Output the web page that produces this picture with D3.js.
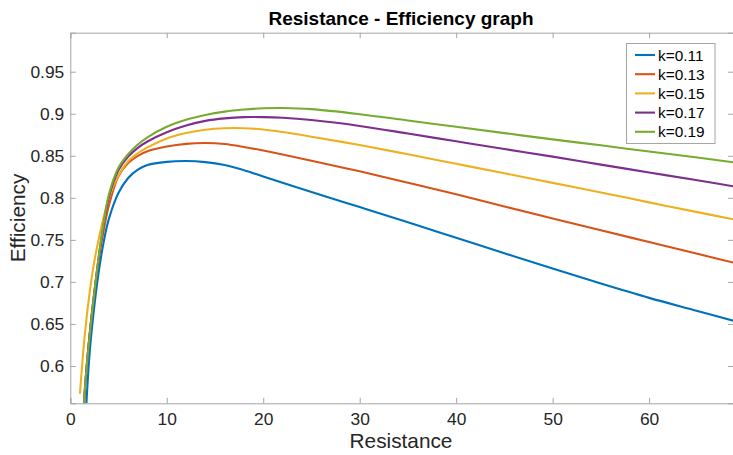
<!DOCTYPE html>
<html><head><meta charset="utf-8">
<script src="https://cdn.jsdelivr.net/npm/d3@7"></script>
<style>body{margin:0;background:#fff}svg{display:block;font-family:"Liberation Sans",Arial,Helvetica,sans-serif}</style>
</head><body><svg id="c" width="733" height="455"></svg>
<script>
const resistance = [1,1.5,2,2.5,3,3.5,4,5,6,7,8,10,12,14,16,18,20,22,25,30,35,40,45,50,55,60,65,69];
const k011 = [0.40,0.52,0.615,0.672,0.716,0.750,0.775,0.806,0.8235,0.8335,0.839,0.8428,0.8438,0.8425,0.839,0.8328,0.8255,0.818,0.8068,0.789,0.771,0.7525,0.734,0.7158,0.698,0.681,0.6655,0.653];
const k013 = [0.45,0.569,0.637,0.689,0.731,0.764,0.791,0.826,0.8415,0.850,0.8555,0.861,0.8642,0.8652,0.864,0.8605,0.8562,0.8515,0.844,0.8315,0.818,0.8042,0.7897,0.7755,0.7614,0.7474,0.7334,0.7222];
const k015 = [0.567,0.637,0.687,0.725,0.754,0.779,0.800,0.827,0.8435,0.853,0.860,0.8705,0.877,0.881,0.8828,0.8828,0.8812,0.8782,0.8727,0.8628,0.8518,0.8405,0.8292,0.8178,0.8064,0.7946,0.783,0.7738];
const k017 = [0.45,0.571,0.637,0.688,0.734,0.771,0.801,0.833,0.849,0.8595,0.867,0.878,0.886,0.8915,0.8945,0.896,0.896,0.8952,0.8925,0.8855,0.8765,0.8672,0.858,0.849,0.8395,0.8302,0.8208,0.8132];
const k019 = [0.45,0.57,0.636,0.688,0.735,0.773,0.804,0.836,0.852,0.8635,0.872,0.8845,0.8928,0.8985,0.9025,0.905,0.9065,0.9068,0.9055,0.8995,0.892,0.8845,0.877,0.8695,0.8625,0.855,0.848,0.8418];
const seriesNames = ["k=0.11","k=0.13","k=0.15","k=0.17","k=0.19"];
const seriesValues = [k011,k013,k015,k017,k019];
const colors = ["#0072BD","#D95319","#EDB120","#7E2F8E","#77AC30"];
const xTicks = [0,10,20,30,40,50,60];
const yTicks = [0.6,0.65,0.7,0.75,0.8,0.85,0.9,0.95];
const yTickLabels = ["0.6","0.65","0.7","0.75","0.8","0.85","0.9","0.95"];

const svg = d3.select("#c");
const L=70.3, R=733.5, T=32.7, B=403.3;
const x = d3.scaleLinear().domain([0,68.75]).range([L,R]);
const y = d3.scaleLinear().domain([0.5556,0.9964]).range([B,T]);
const axisCol="#a6a6a6", textCol="#262626";

svg.append("defs").append("clipPath").attr("id","clip").append("rect")
  .attr("x",L).attr("y",T).attr("width",R-L).attr("height",B-T);

const line = d3.line().x(d=>x(d[0])).y(d=>y(d[1])).curve(d3.curveCatmullRom.alpha(0.5));
const g = svg.append("g").attr("clip-path","url(#clip)");
seriesValues.forEach((vals,i)=>{
  g.append("path").datum(resistance.map((r,j)=>[r,vals[j]]))
   .attr("d",line).attr("fill","none").attr("stroke",colors[i]).attr("stroke-width",2.1);
});

const xb = svg.append("g").attr("transform",`translate(0,${B})`)
  .call(d3.axisBottom(x).tickValues(xTicks).tickSize(-5.5).tickPadding(9).tickFormat(d3.format("d")));
const xt = svg.append("g").attr("transform",`translate(0,${T})`)
  .call(d3.axisTop(x).tickValues(xTicks).tickSize(-5.5).tickFormat(""));
const yl = svg.append("g").attr("transform",`translate(${L},0)`)
  .call(d3.axisLeft(y).tickValues(yTicks).tickSize(-5.5).tickPadding(6).tickFormat((d,i)=>yTickLabels[i]));
const yr = svg.append("g").attr("transform",`translate(${R},0)`)
  .call(d3.axisRight(y).tickValues(yTicks).tickSize(-5.5).tickFormat(""));
[xb,xt,yl,yr].forEach(a=>{
  a.select(".domain").attr("stroke",axisCol).attr("stroke-width",1);
  a.selectAll(".tick line").attr("stroke",axisCol);
  a.selectAll("text").attr("fill",textCol).attr("font-size","17.4px").attr("font-family","'Liberation Sans',Arial,sans-serif");
});
xb.selectAll("text").attr("dy","0.71em");

svg.append("text").attr("x",401).attr("y",24.5).attr("text-anchor","middle")
  .attr("font-size","19px").attr("font-weight","bold").attr("fill","#000").text("Resistance - Efficiency graph");
svg.append("text").attr("x",401).attr("y",448).attr("text-anchor","middle")
  .attr("font-size","20.8px").attr("fill",textCol).text("Resistance");
svg.append("text").attr("transform",`translate(25,${(T+B)/2}) rotate(-90)`).attr("text-anchor","middle")
  .attr("font-size","20.8px").attr("fill",textCol).text("Efficiency");

const lg = svg.append("g");
lg.append("rect").attr("x",626.5).attr("y",43.5).attr("width",88.5).attr("height",100)
  .attr("fill","#fff").attr("stroke","#a6a6a6").attr("stroke-width",1);
seriesNames.forEach((n,i)=>{
  const yy = 55 + i*19.2;
  lg.append("line").attr("x1",635).attr("x2",655).attr("y1",yy).attr("y2",yy)
    .attr("stroke",colors[i]).attr("stroke-width",2.1);
  lg.append("text").attr("x",658).attr("y",yy).attr("dy","0.36em")
    .attr("font-size","15.4px").attr("fill","#000").text(n);
});
</script></body></html>
